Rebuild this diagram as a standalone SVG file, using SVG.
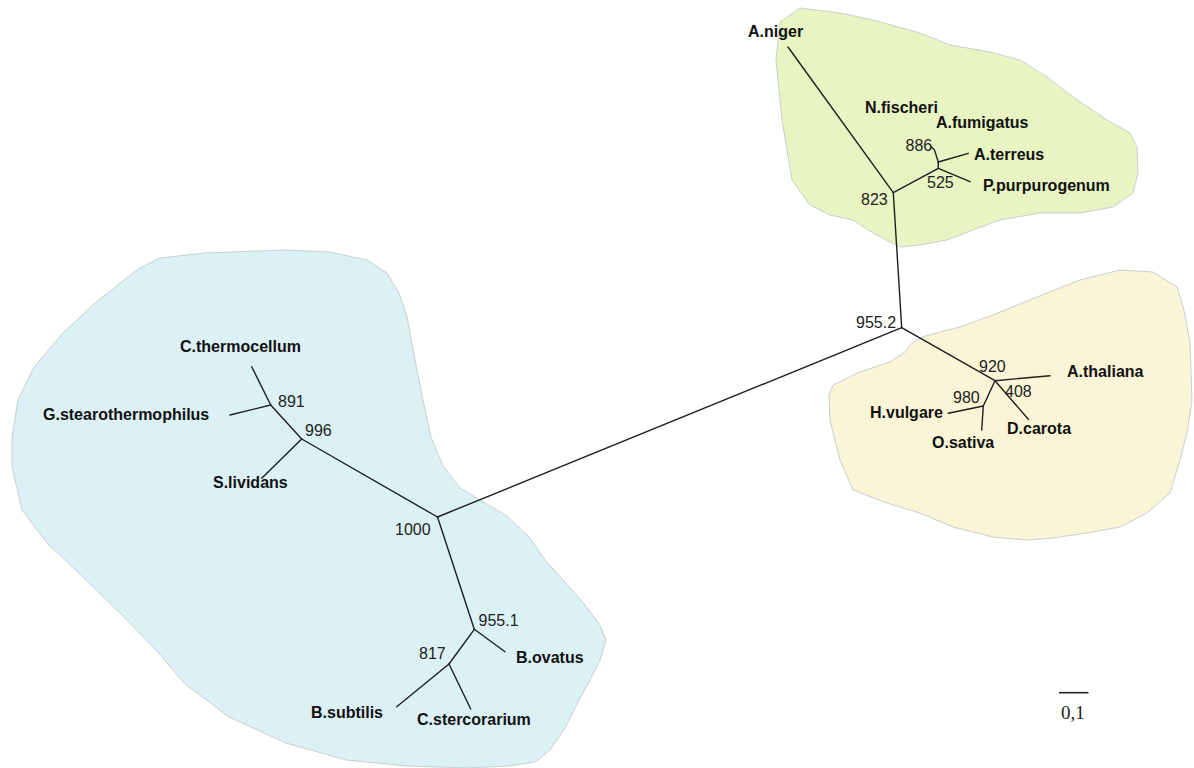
<svg xmlns="http://www.w3.org/2000/svg" width="1194" height="768" viewBox="0 0 1194 768">
<style>
.blob{stroke:#c9cfcf;stroke-width:1;stroke-linejoin:round}
.br{fill:none;stroke:#1e1e1e;stroke-width:1.4;stroke-linecap:round}
.leaf{font-family:"Liberation Sans",Arial,sans-serif;font-weight:bold;font-size:16px;fill:#111}
.sup{font-family:"Liberation Sans",Arial,sans-serif;font-size:16px;fill:#222}
.scale{font-family:"Liberation Serif","Times New Roman",serif;font-size:19px;fill:#222}
</style>
<rect width="1194" height="768" fill="#ffffff"/>
<g id="regions">
<path id="bacteria-region" class="blob" fill="#dcf1f6" d="M140,268 L160,258 L205,253 L285,250 L330,252 L367,260 L387,273 L399,293 L407,317 L415,360 L423,400 L431,437 L443,466 L460,488 L480,500 L507,516 L530,538 L545,560 L565,582 L585,605 L600,625 L606,640 L600,660 L590,680 L578,702 L565,728 L550,750 L535,762 L508,766 L468,768 L407,766 L346,760 L286,743 L229,717 L184,683 L156,650 L124,617 L83,577 L47,543 L22,510 L12,467 L12,437 L18,400 L34,367 L63,333 L95,303 L124,280 Z"/>
<path id="fungi-region" class="blob" fill="#e8f4c1" d="M800,8 L840,13 L873,20 L920,33 L950,45 L990,52 L1020,60 L1047,77 L1073,97 L1107,120 L1130,133 L1137,147 L1138,173 L1133,193 L1113,207 L1080,213 L1040,213 L1000,220 L973,230 L947,240 L920,245 L900,247 L873,233 L853,220 L830,215 L810,205 L792,180 L782,120 L776,60 L780,22 Z"/>
<path id="plant-region" class="blob" fill="#faf5d6" d="M833,385 L860,372 L890,362 L905,352 L912,343 L925,336 L960,327 L993,315 L1037,297 L1080,280 L1120,270 L1153,272 L1177,287 L1184,310 L1190,343 L1192,400 L1187,433 L1180,460 L1170,493 L1147,513 L1120,527 L1087,533 L1053,538 L1027,540 L993,537 L953,527 L920,513 L887,503 L853,490 L840,460 L830,420 L829,395 Z"/>
</g>
<g id="connectors">
<line class="br" x1="437.5" y1="517" x2="901.7" y2="327.7"/>
<line class="br" x1="437.5" y1="517" x2="301.7" y2="439"/>
<line class="br" x1="437.5" y1="517" x2="474.3" y2="629.3"/>
<line class="br" x1="301.7" y1="439" x2="261.7" y2="478.3"/>
<line class="br" x1="301.7" y1="439" x2="270.7" y2="405"/>
<line class="br" x1="270.7" y1="405" x2="251.7" y2="366.7"/>
<line class="br" x1="270.7" y1="405" x2="230" y2="415"/>
<line class="br" x1="474.3" y1="629.3" x2="505" y2="651.7"/>
<line class="br" x1="474.3" y1="629.3" x2="449" y2="664"/>
<line class="br" x1="449" y1="664" x2="396.7" y2="706.7"/>
<line class="br" x1="449" y1="664" x2="470.7" y2="709"/>
<line class="br" x1="901.7" y1="327.7" x2="893.3" y2="192.7"/>
<line class="br" x1="893.3" y1="192.7" x2="788" y2="47"/>
<line class="br" x1="893.3" y1="192.7" x2="938.3" y2="168.3"/>
<line class="br" x1="938.3" y1="168.3" x2="970" y2="181.7"/>
<line class="br" x1="938.3" y1="168.3" x2="938.3" y2="162"/>
<line class="br" x1="938.3" y1="162" x2="968.3" y2="153.3"/>
<polyline class="br" points="938.3,162 934.5,150 931.5,147"/>
<line class="br" x1="901.7" y1="327.7" x2="995" y2="380.7"/>
<line class="br" x1="995" y1="380.7" x2="1050" y2="375.7"/>
<line class="br" x1="995" y1="380.7" x2="1028.3" y2="419.3"/>
<line class="br" x1="995" y1="380.7" x2="983.3" y2="406"/>
<line class="br" x1="983.3" y1="406" x2="948.3" y2="413.3"/>
<line class="br" x1="983.3" y1="406" x2="981.7" y2="430"/>
</g>
<g id="leaves">
<text id="C.thermocellum" class="leaf" x="180" y="352">C.thermocellum</text>
<text id="G.stearothermophilus" class="leaf" x="43" y="420">G.stearothermophilus</text>
<text id="S.lividans" class="leaf" x="213" y="488">S.lividans</text>
<text id="B.ovatus" class="leaf" x="516" y="663">B.ovatus</text>
<text id="B.subtilis" class="leaf" x="311" y="718">B.subtilis</text>
<text id="C.stercorarium" class="leaf" x="417" y="725">C.stercorarium</text>
<text id="A.niger" class="leaf" x="748" y="37">A.niger</text>
<text id="N.fischeri" class="leaf" x="865" y="113">N.fischeri</text>
<text id="A.fumigatus" class="leaf" x="936" y="128">A.fumigatus</text>
<text id="A.terreus" class="leaf" x="974" y="160">A.terreus</text>
<text id="P.purpurogenum" class="leaf" x="983" y="191">P.purpurogenum</text>
<text id="A.thaliana" class="leaf" x="1067" y="377">A.thaliana</text>
<text id="D.carota" class="leaf" x="1007" y="434">D.carota</text>
<text id="H.vulgare" class="leaf" x="870" y="418">H.vulgare</text>
<text id="O.sativa" class="leaf" x="932" y="448">O.sativa</text>
</g>
<g id="support-values">
<text class="sup" x="278" y="406.5">891</text>
<text class="sup" x="305" y="436">996</text>
<text class="sup" x="395" y="535">1000</text>
<text class="sup" x="478.5" y="625.5">955.1</text>
<text class="sup" x="419" y="658.5">817</text>
<text class="sup" x="856" y="328">955.2</text>
<text class="sup" x="861" y="205">823</text>
<text class="sup" x="905.5" y="151">886</text>
<text class="sup" x="927" y="188">525</text>
<text class="sup" x="979" y="372">920</text>
<text class="sup" x="1005" y="396.5">408</text>
<text class="sup" x="953" y="402.5">980</text>
</g>
<g id="scale-bar">
<line x1="1059" y1="692.7" x2="1088.5" y2="692.7" stroke="#222" stroke-width="1.6"/>
<text class="scale" x="1061" y="719">0,1</text>
</g>
</svg>
